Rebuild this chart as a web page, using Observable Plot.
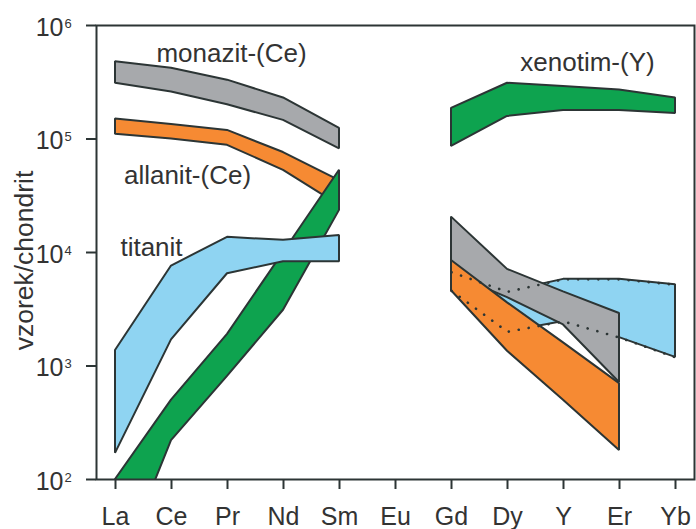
<!DOCTYPE html>
<html>
<head>
<meta charset="utf-8">
<script src="https://cdn.jsdelivr.net/npm/d3@7"></script>
<script src="https://cdn.jsdelivr.net/npm/@observablehq/plot@0.6"></script>
<style>
  html, body { margin: 0; padding: 0; background: #fff; }
</style>
</head>
<body>
<div id="chart"></div>
<script>
// ---- categories ----
const elements = ["La", "Ce", "Pr", "Nd", "Sm", "Eu", "Gd", "Dy", "Y", "Er", "Yb"];
const lreeEls = ["La", "Ce", "Pr", "Nd", "Sm"];
const hreeEls = ["Gd", "Dy", "Y", "Er", "Yb"];
const hreeEls4 = ["Gd", "Dy", "Y", "Er"];
const yTicks = [1e2, 1e3, 1e4, 1e5, 1e6];

// ---- monazit-(Ce) ----
const monaziteLreeHi = [4.8e5, 4.2e5, 3.3e5, 2.3e5, 1.24e5];
const monaziteLreeLo = [3.1e5, 2.6e5, 2.0e5, 1.46e5, 8.2e4];
const monaziteHreeHi = [2.05e4, 7.1e3, 4.5e3, 2.9e3];
const monaziteHreeLo = [6.5e3, 4.0e3, 2.3e3, 716];

// ---- allanit-(Ce) ----
const allaniteLreeHi = [1.5e5, 1.34e5, 1.19e5, 7.6e4, 4.3e4];
const allaniteLreeLo = [1.1e5, 1.0e5, 8.8e4, 5.3e4, 2.6e4];
const allaniteHreeHi = [8.5e3, 3.6e3, 1.6e3, 700];
const allaniteHreeLo = [4.6e3, 1.35e3, 500, 180];

// ---- titanit ----
const titaniteLreeHi = [1.37e3, 7.6e3, 1.36e4, 1.28e4, 1.41e4];
const titaniteLreeLo = [170, 1.7e3, 6.5e3, 8.3e3, 8.3e3];
const titaniteHreeHi = [6.7e3, 4.5e3, 5.8e3, 5.8e3, 5.2e3];
const titaniteHreeLo = [4.6e3, 2.0e3, 2.47e3, 1.78e3, 1.19e3];

// ---- xenotim-(Y) ----
const xenotimeLreeHi = [100, 500, 1.9e3, 1.0e4, 5.3e4];
const xenotimeLreeLo = [13, 220, 810, 3.1e3, 2.35e4];
const xenotimeHreeHi = [1.86e5, 3.1e5, 2.9e5, 2.7e5, 2.3e5];
const xenotimeHreeLo = [8.6e4, 1.58e5, 1.78e5, 1.78e5, 1.68e5];

// ---- labels ----
const labelNames = ["monazit-(Ce)", "allanit-(Ce)", "titanit", "xenotim-(Y)"];
const labelEls = ["Pr", "Ce", "Ce", "Y"];
const labelVals = [5.7e5, 4.8e4, 1.11e4, 4.75e5];

const colors = {
  monazite: "#a7a9ac",
  allanite: "#f68a33",
  titanite: "#8fd4f2",
  xenotime: "#0ea34f"
};
const ink = "#2c3535";
const textInk = "#333333";

function band(els, lo, hi) {
  return els.map((el, i) => ({ el, lo: lo[i], hi: hi[i] }));
}
function area(data, fill) {
  return Plot.areaY(data, {
    x: "el", y1: "lo", y2: "hi",
    fill, stroke: ink, strokeWidth: 2, strokeLinejoin: "miter", clip: true
  });
}

const tiHree = band(hreeEls, titaniteHreeLo, titaniteHreeHi);
const fontFamily = "'Liberation Sans', Arial, Helvetica, sans-serif";

const chart = Plot.plot({
  width: 696,
  height: 529,
  marginLeft: 96,
  marginRight: 2,
  marginTop: 25,
  marginBottom: 50,
  style: { fontFamily, color: textInk, background: "#fff", overflow: "visible" },
  x: { type: "point", domain: elements, padding: 0.27 },
  y: { type: "log", domain: [100, 1e6] },
  marks: [
    // LREE bands
    area(band(lreeEls, monaziteLreeLo, monaziteLreeHi), colors.monazite),
    area(band(lreeEls, allaniteLreeLo, allaniteLreeHi), colors.allanite),
    area(band(lreeEls, xenotimeLreeLo, xenotimeLreeHi), colors.xenotime),
    area(band(lreeEls, titaniteLreeLo, titaniteLreeHi), colors.titanite),
    // HREE bands
    area(band(hreeEls, xenotimeHreeLo, xenotimeHreeHi), colors.xenotime),
    area(tiHree, colors.titanite),
    area(band(hreeEls4, monaziteHreeLo, monaziteHreeHi), colors.monazite),
    area(band(hreeEls4, allaniteHreeLo, allaniteHreeHi), colors.allanite),
    // hidden titanite outline (dotted)
    Plot.lineY(tiHree, { x: "el", y: "hi", stroke: ink, strokeWidth: 2.6, strokeLinecap: "round", strokeDasharray: "0.1 10" }),
    Plot.lineY(tiHree, { x: "el", y: "lo", stroke: ink, strokeWidth: 2.6, strokeLinecap: "round", strokeDasharray: "0.1 10" }),
    // frame + axes
    Plot.frame({ stroke: ink, strokeWidth: 2 }),
    Plot.axisX({ tickSize: 10, tickPadding: 18, fontSize: 25, stroke: ink, strokeWidth: 2, label: null }),
    Plot.axisY({ ticks: yTicks, tickSize: 10, tickFormat: () => "", stroke: ink, strokeWidth: 2, label: null }),
    Plot.text(yTicks, { y: d => d, text: () => "10", frameAnchor: "left", dx: -33, dy: 2, textAnchor: "end", fontSize: 25, fill: textInk }),
    Plot.text(yTicks, { y: d => d, text: d => String(Math.round(Math.log10(d))), frameAnchor: "left", dx: -32, dy: -2, textAnchor: "start", fontSize: 13, fill: textInk }),
    Plot.text(["vzorek/chondrit"], { frameAnchor: "left", textAnchor: "middle", dx: -72, dy: 8, rotate: -90, fontSize: 26.5, fill: textInk }),
    // annotations
    Plot.text([0], { x: () => labelEls[0], y: () => labelVals[0], text: () => labelNames[0], dx: 4, fontSize: 26, fill: textInk }),
    Plot.text([1], { x: () => labelEls[1], y: () => labelVals[1], text: () => labelNames[1], dx: 16, fontSize: 26, fill: textInk }),
    Plot.text([2], { x: () => labelEls[2], y: () => labelVals[2], text: () => labelNames[2], dx: -20, fontSize: 26, fill: textInk }),
    Plot.text([3], { x: () => labelEls[3], y: () => labelVals[3], text: () => labelNames[3], dx: 24, fontSize: 26, fill: textInk })
  ]
});
document.getElementById("chart").appendChild(chart);
</script>
</body>
</html>
